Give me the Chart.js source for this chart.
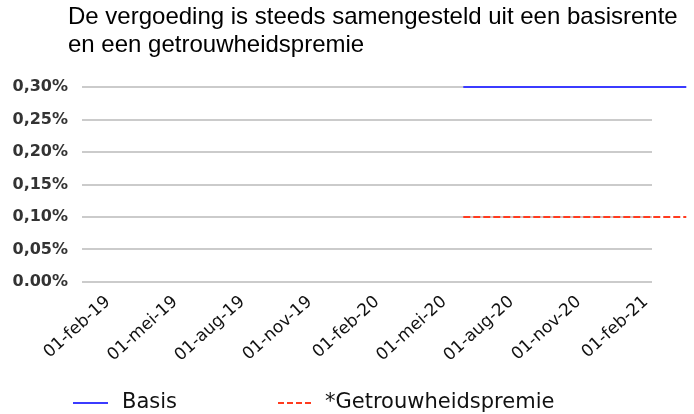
<!DOCTYPE html>
<html>
<head>
<meta charset="utf-8">
<script src="https://cdn.jsdelivr.net/npm/chart.js@4.4.1/dist/chart.umd.min.js"></script>
<style>
  body { margin: 0; background: #fff; }
  .wrap { position: relative; width: 694px; height: 414px; overflow: hidden; }
  .title {
    position: absolute; left: 68px; top: 2px;
    font: 24px "Liberation Sans", Arial, sans-serif; line-height: 28px; color: #000;
  }
  .legend-item { position: absolute; font: 21px "DejaVu Sans", sans-serif; line-height: 24px; color: #111; }
  .swatch { position: absolute; height: 2px; }
</style>
</head>
<body>
<div class="wrap">
  <canvas class="graph" width="694" height="414"></canvas>
  <div class="title">De vergoeding is steeds samengesteld uit een basisrente<br>en een getrouwheidspremie</div>
  <div class="swatch" style="left:73px; top:402px; width:35px; background:#3b3bff;"></div>
  <div class="legend-item" style="left:122px; top:389px;">Basis</div>
  <div class="swatch" style="left:278px; top:402px; width:34px; background:repeating-linear-gradient(to right, #ff3b1f 0 6px, transparent 6px 9px);"></div>
  <div class="legend-item" style="left:325px; top:389px;">*Getrouwheidspremie</div>
</div>
<script>
// months counted from 01-feb-19
const tickMonths = [0, 3, 6, 9, 12, 15, 18, 21, 24];
const tickLabels = ['01-feb-19', '01-mei-19', '01-aug-19', '01-nov-19', '01-feb-20',
                    '01-mei-20', '01-aug-20', '01-nov-20', '01-feb-21'];

const yTickValues = [0, 0.05, 0.10, 0.15, 0.20, 0.25, 0.30];
const yTickLabels = ['0.00%', '0,05%', '0,10%', '0,15%', '0,20%', '0,25%', '0,30%'];

// the series only run in the last part of the period
const periodMonths = [15.85, 25.8];
const basis = [0.30, 0.30];
const premie = [0.10, 0.10];

function toPoints(values) {
  return periodMonths.map((m, i) => ({ x: m, y: values[i] }));
}

var ctx = document.querySelector('.graph').getContext('2d');
var chart = new Chart(ctx, {
  type: 'line',
  data: {
    datasets: [{
      label: 'Basis',
      data: toPoints(basis),
      borderColor: '#3b3bff',
      borderWidth: 2,
      pointRadius: 0,
      clip: false
    }, {
      label: '*Getrouwheidspremie',
      data: toPoints(premie),
      borderColor: '#ff3b1f',
      borderWidth: 2,
      borderDash: [7, 3],
      pointRadius: 0,
      clip: false
    }]
  },
  options: {
    responsive: false,
    animation: false,
    layout: { padding: { left: 0, right: 42, top: 87, bottom: 0 } },
    plugins: {
      legend: { display: false },
      tooltip: { enabled: false }
    },
    scales: {
      x: {
        type: 'linear',
        min: -1.16,
        max: 24.27,
        grid: { display: false },
        border: { display: false },
        afterBuildTicks: axis => { axis.ticks = tickMonths.map(v => ({ value: v })); },
        afterFit: axis => { axis.height = 132; },
        ticks: {
          autoSkip: false,
          minRotation: 42,
          maxRotation: 42,
          padding: 2,
          color: '#111',
          font: { family: 'DejaVu Sans', size: 17 },
          callback: value => tickLabels[tickMonths.indexOf(value)]
        }
      },
      y: {
        min: 0,
        max: 0.30,
        grid: { color: '#cbcbcb', lineWidth: 2, drawTicks: false },
        border: { display: false },
        afterBuildTicks: axis => { axis.ticks = yTickValues.map(v => ({ value: v })); },
        afterFit: axis => { axis.width = 82; },
        ticks: {
          padding: 14,
          color: '#333',
          font: { family: 'DejaVu Sans', size: 16, weight: 'bold' },
          callback: (value, index) => yTickLabels[index]
        }
      }
    }
  }
});
</script>
</body>
</html>
